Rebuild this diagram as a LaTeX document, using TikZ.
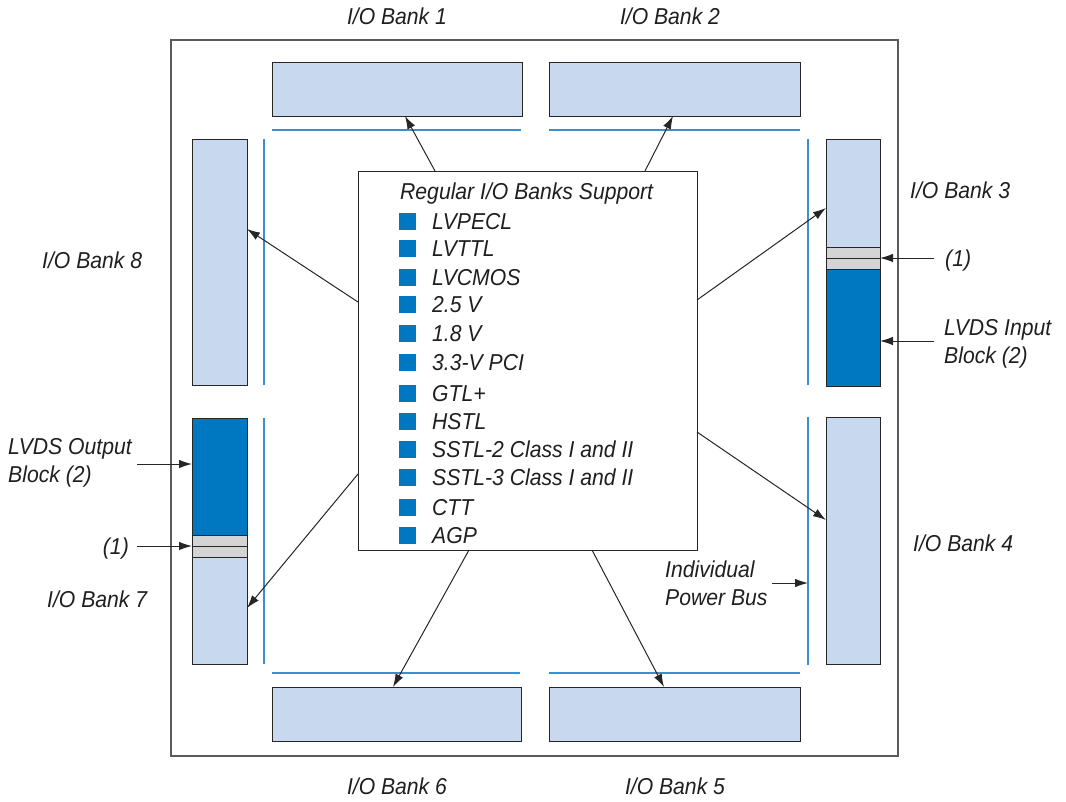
\documentclass[tikz,border=0pt]{standalone}
\usepackage{fontspec}
\setmainfont{Liberation Sans}[FakeStretch=0.92]
\usetikzlibrary{arrows.meta,calc}
\definecolor{lb}{HTML}{C8D8EF}
\definecolor{db}{HTML}{0077C1}
\definecolor{gr}{HTML}{D4D4D4}
\definecolor{busc}{HTML}{3A8FD0}
\definecolor{fr}{HTML}{5A5A5A}
\begin{document}
\begin{tikzpicture}[x=1pt,y=-1pt,
  blk/.style={draw=black!85, line width=0.9pt, inner sep=0, outer sep=0},
  lbank/.style={blk, fill=lb},
  dbank/.style={blk, fill=db},
  gband/.style={blk, fill=gr},
  busl/.style={draw=busc, line width=1.2pt},
  lbl/.style={font=\fontsize{23}{27.5}\selectfont\itshape, text=black!88, inner sep=0, align=left},
  arr/.style={draw=black!85, line width=1pt, -{Latex[length=13pt,width=8.5pt]}},
  sq/.style={fill=db, minimum size=17pt, inner sep=0},
]
\useasboundingbox (0,0) rectangle (1066,801);
% frame
\draw[fr, line width=1.4pt] (171,40) rectangle (898,756);

% banks
\node[lbank, minimum width=250pt, minimum height=54pt] (b1) at (397,89) {};
\node[lbank, minimum width=251pt, minimum height=54pt] (b2) at (674.5,89) {};
\node[lbank, minimum width=249pt, minimum height=54pt] (b6) at (396.5,714) {};
\node[lbank, minimum width=251pt, minimum height=54pt] (b5) at (674.5,714) {};
\node[lbank, minimum width=55pt, minimum height=246pt] (b8) at (219.5,262) {};
\node[lbank, minimum width=54pt, minimum height=247pt] (b4) at (853,540.5) {};
% bank 3 (right, top)
\node[lbank, minimum width=54pt, minimum height=108pt] (b3) at (853,193) {};
\node[gband, minimum width=54pt, minimum height=11pt] (g3a) at (853,252.5) {};
\node[gband, minimum width=54pt, minimum height=11pt] (g3b) at (853,263.5) {};
\node[dbank, minimum width=54pt, minimum height=117pt] (lv3) at (853,327.5) {};
% bank 7 (left, bottom)
\node[dbank, minimum width=55pt, minimum height=117pt] (lv7) at (219.5,476.5) {};
\node[gband, minimum width=55pt, minimum height=11pt] (g7a) at (219.5,540.5) {};
\node[gband, minimum width=55pt, minimum height=11pt] (g7b) at (219.5,551.5) {};
\node[lbank, minimum width=55pt, minimum height=107pt] (b7) at (219.5,610.5) {};

% power buses
\draw[busl] (272,130) -- (521,130);
\draw[busl] (549,130) -- (800,130);
\draw[busl] (272,673) -- (520,673);
\draw[busl] (549,673) -- (800,673);
\draw[busl] (264,139) -- (264,385);
\draw[busl] (264,418) -- (264,664);
\draw[busl] (808,139) -- (808,385);
\draw[busl] (808,417) -- (808,665);

% core box
\node[draw=black!85, line width=1pt, fill=white, minimum width=339pt, minimum height=379pt, inner sep=0, outer sep=0] (core) at (527.5,360.5) {};
\node[lbl, anchor=base west] (title) at (400,199) {Regular I/O Banks Support};
\foreach \y/\t [count=\i] in {221/LVPECL,248/LVTTL,277/LVCMOS,304/2.5 V,333/1.8 V,362/3.3-V PCI,393/GTL+,421/HSTL,449/SSTL-2 Class I and II,477/SSTL-3 Class I and II,507/CTT,535/AGP}{
  \node[sq] (sq\i) at (407.5,\y) {};
  \node[lbl, anchor=base west] (it\i) at (432,\y+8) {\t};
}

% arrows from core to banks
\draw[arr] ([xshift=-92.5pt]core.north) -- ([xshift=8pt]b1.south);
\draw[arr] ([xshift=117.5pt]core.north) -- ([xshift=-1.5pt]b2.south);
\draw[arr] ([yshift=58.5pt]core.west) -- ([yshift=33pt]b8.east);
\draw[arr] ([yshift=60.5pt]core.east) -- ([yshift=-15pt]b3.west);
\draw[arr] ([yshift=-113.5pt]core.west) -- ([yshift=2.5pt]b7.east);
\draw[arr] ([yshift=-71.5pt]core.east) -- ([yshift=20.5pt]b4.west);
\draw[arr] ([xshift=-58.5pt]core.south) -- ([xshift=-3.5pt]b6.north);
\draw[arr] ([xshift=64.5pt]core.south) -- ([xshift=-10.5pt]b5.north);

% bank labels
\node[lbl, anchor=base] (l1) at (397,24) {I/O Bank 1};
\node[lbl, anchor=base] (l2) at (670,24) {I/O Bank 2};
\node[lbl, anchor=base] (l6) at (397,794) {I/O Bank 6};
\node[lbl, anchor=base] (l5) at (675,794) {I/O Bank 5};
\node[lbl, anchor=base west] (l3) at (910,198) {I/O Bank 3};
\node[lbl, anchor=base west] (l8) at (42,268) {I/O Bank 8};
\node[lbl, anchor=base west] (l7) at (47,607) {I/O Bank 7};
\node[lbl, anchor=base west] (l4) at (913,551) {I/O Bank 4};

% callouts
\node[lbl, anchor=base west] (n1r) at (945,266) {(1)};
\coordinate (c1r) at (934,258);
\draw[arr] (c1r) -- (g3a.south east);
\node[lbl, anchor=base west] (lvin) at (944,363) {LVDS Input\\Block (2)};
\coordinate (cin) at (934,341);
\draw[arr] (cin) -- (cin -| lv3.east);
\node[lbl, anchor=base west] (lvout) at (8,482) {LVDS Output\\Block (2)};
\coordinate (cout) at (137,464);
\draw[arr] (cout) -- (cout -| lv7.west);
\node[lbl, anchor=base east] (n1l) at (129,554) {(1)};
\coordinate (c1l) at (137,546);
\draw[arr] (c1l) -- (g7a.south west);
\node[lbl, anchor=base west] (ipb) at (665,605) {Individual\\Power Bus};
\coordinate (cpb) at (772,583);
\draw[arr] (cpb) -- (808,583);
\end{tikzpicture}
\end{document}
